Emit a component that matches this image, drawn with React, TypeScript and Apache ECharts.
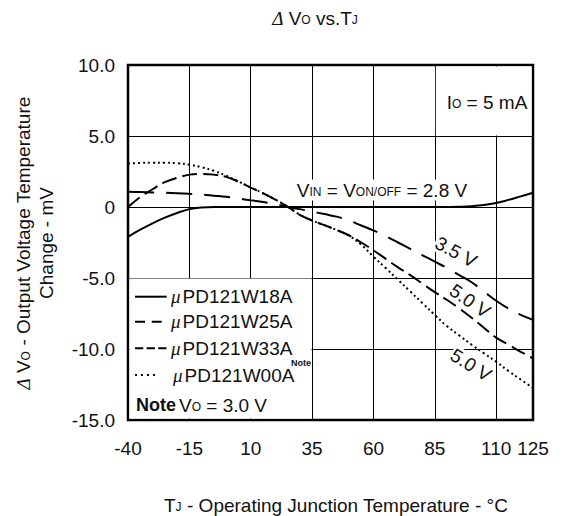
import React, { useEffect, useRef } from 'react';
import * as echarts from 'echarts';

// ---------- data ----------
const temps = [-40, -35, -30, -25, -20, -15, -10, -5, 0, 5, 10, 15, 20, 25, 30, 35, 40, 45, 50, 55, 60, 65, 70, 75, 80, 85, 90, 95, 100, 105, 110, 115, 120, 125];
const w18a = [-2.1, -1.6, -1.15, -0.75, -0.42, -0.15, -0.03, 0, 0, 0, 0, 0, 0, 0, 0, 0, 0, 0, 0, 0, 0, 0, 0, 0, 0, 0, 0, 0.02, 0.06, 0.14, 0.28, 0.5, 0.75, 1.0];
const w25a = [1.08, 1.05, 1.02, 1.0, 0.97, 0.93, 0.88, 0.8, 0.72, 0.6, 0.47, 0.35, 0.2, 0.0, -0.15, -0.33, -0.5, -0.68, -0.95, -1.3, -1.65, -2.05, -2.5, -2.95, -3.4, -3.85, -4.3, -4.8, -5.3, -5.95, -6.6, -7.15, -7.6, -7.95];
const w33a = [0, 0.7, 1.25, 1.75, 2.05, 2.28, 2.33, 2.28, 2.12, 1.78, 1.37, 0.96, 0.52, 0.02, -0.55, -0.95, -1.28, -1.62, -1.99, -2.5, -3.05, -3.65, -4.25, -4.8, -5.4, -6.0, -6.55, -7.15, -7.8, -8.5, -9.2, -9.7, -10.2, -10.66];
const w00a = [3.05, 3.1, 3.12, 3.12, 3.08, 2.98, 2.8, 2.55, 2.2, 1.8, 1.38, 0.97, 0.53, 0.03, -0.55, -0.95, -1.28, -1.62, -2.02, -2.65, -3.5, -4.3, -5.12, -5.95, -6.78, -7.6, -8.4, -9.05, -9.7, -10.3, -10.9, -11.55, -12.15, -12.75];
const seriesNames = ['PD121W18A', 'PD121W25A', 'PD121W33A', 'PD121W00A'];
const curveLabels = ['3.5 V', '5.0 V', '5.0 V'];

const xMin = -40, xMax = 125, xStep = 25;
const yMin = -15, yMax = 10, yStep = 5;

// ---------- layout / styles ----------
const W = 569, H = 516;
const G = { left: 128, top: 65, right: 36, bottom: 96 };
const FONT = '"Liberation Sans", Arial, Helvetica, sans-serif';
const SERIF = '"Liberation Serif", "Times New Roman", serif';
const INK = '#111';
const FS = 19;

const px = (t: number) => G.left + ((t - xMin) / (xMax - xMin)) * (W - G.left - G.right);
const py = (v: number) => G.top + ((yMax - v) / (yMax - yMin)) * (H - G.top - G.bottom);

const richSet = (lh?: number) => ({
  m: { fontFamily: FONT, fontSize: FS, fill: INK, verticalAlign: 'bottom', lineHeight: lh },
  s: { fontFamily: FONT, fontSize: 12, fill: INK, verticalAlign: 'bottom', padding: [0, 0, 1.5, 0] },
  d: { fontFamily: SERIF, fontSize: FS, fontStyle: 'italic', fill: INK, verticalAlign: 'bottom', lineHeight: lh },
  mu: { fontFamily: SERIF, fontSize: FS, fontStyle: 'italic', fill: INK, verticalAlign: 'bottom' },
  b: { fontFamily: FONT, fontSize: 18, fontWeight: 'bold', fill: INK, verticalAlign: 'bottom' },
});

const lineStyles: any[] = ['solid', [26, 12], [15, 6], [2, 3]];
const legendDash: any[] = [null, [10, 6.7], [8.3, 3.3], [2, 4]];
const legendEnd = [166.7, 162, 166.7, 157];
const legendRowY = [296.7, 321.7, 348.3, 375];
const legendTextX = [171, 171, 171, 173];

function buildOption(): any {
  const allData = [w18a, w25a, w33a, w00a];
  const series = allData.map((d, i) => ({
    type: 'line',
    name: seriesNames[i],
    data: temps.map((t, k) => [t, d[k]]),
    showSymbol: false,
    symbol: 'none',
    smooth: 0.4,
    silent: true,
    z: 2,
    lineStyle: { color: '#000', width: 2, type: lineStyles[i], cap: 'butt' },
  }));

  const graphic: any[] = [];
  // white box behind "Io = 5 mA"
  graphic.push({
    type: 'rect', z: 1, silent: true,
    shape: { x: px(85) + 1, y: py(10) + 1.5, width: px(125) - 1.5 - (px(85) + 1), height: py(5) - 0.6 - (py(10) + 1.5) },
    style: { fill: '#fff' },
  });
  // legend box
  graphic.push({
    type: 'rect', z: 1, silent: true,
    shape: { x: px(-40) + 1.5, y: py(-5) + 0.6, width: px(35) - 0.6 - (px(-40) + 1.5), height: py(-15) - 1.5 - (py(-5) + 0.6) },
    style: { fill: '#fff' },
  });
  // title
  graphic.push({
    type: 'text', x: 315, y: 18, z: 5,
    style: { text: '{d|Δ}{m| V}{s|O}{m| vs.T}{s|J}', rich: richSet(), align: 'center', verticalAlign: 'middle' },
  });
  // y axis title
  graphic.push({
    type: 'text', x: 33, y: 243, rotation: Math.PI / 2, z: 5,
    style: {
      text: '{d|Δ}{m| V}{s|O}{m| - Output Voltage Temperature}\n{m|Change - mV}',
      rich: richSet(23), align: 'center', verticalAlign: 'middle',
    },
  });
  // x axis title
  graphic.push({
    type: 'text', x: 336, y: 505, z: 5,
    style: { text: '{m|T}{s|J}{m| - Operating Junction Temperature - °C}', rich: richSet(), align: 'center', verticalAlign: 'middle' },
  });
  // Io label
  graphic.push({
    type: 'text', x: 487, y: 102, z: 5,
    style: { text: '{m|I}{s|O}{m| = 5 mA}', rich: richSet(), align: 'center', verticalAlign: 'middle' },
  });
  // VIN label
  graphic.push({
    type: 'text', x: 382, y: 190, z: 5,
    style: {
      text: '{m|V}{s|IN}{m| = V}{s|ON/OFF}{m| = 2.8 V}', rich: richSet(), align: 'center', verticalAlign: 'middle',
      backgroundColor: '#fff', padding: [1, 2],
    },
  });
  // rotated curve labels
  const lblPos = [
    { x: 456, y: 252, r: -0.49 },
    { x: 470, y: 301, r: -0.6 },
    { x: 471, y: 365, r: -0.56 },
  ];
  curveLabels.forEach((t, i) => {
    graphic.push({
      type: 'text', x: lblPos[i].x, y: lblPos[i].y, rotation: lblPos[i].r, z: 5,
      style: {
        text: t, fontFamily: FONT, fontSize: FS, fill: INK, align: 'center', verticalAlign: 'middle',
        backgroundColor: '#fff', padding: [0, 1],
      },
    });
  });
  // legend
  seriesNames.forEach((n, i) => {
    graphic.push({
      type: 'line', z: 5, silent: true,
      shape: { x1: 135, y1: legendRowY[i], x2: legendEnd[i], y2: legendRowY[i] },
      style: { stroke: '#000', lineWidth: 2, lineDash: legendDash[i] || undefined },
    });
    graphic.push({
      type: 'text', x: legendTextX[i], y: legendRowY[i], z: 5,
      style: { text: `{mu|μ}{m|${n}}`, rich: { ...richSet(), m: { ...richSet().m, padding: [0, 0, 0, 2] } }, align: 'left', verticalAlign: 'middle' },
    });
  });
  graphic.push({
    type: 'text', x: 291, y: 363, z: 5,
    style: { text: 'Note', fontFamily: FONT, fontSize: 9, fontWeight: 'bold', fill: INK, align: 'left', verticalAlign: 'middle' },
  });
  graphic.push({
    type: 'text', x: 136, y: 405, z: 5,
    style: { text: 'Note', fontFamily: FONT, fontSize: 18, fontWeight: 'bold', fill: INK, align: 'left', verticalAlign: 'middle' },
  });
  graphic.push({
    type: 'text', x: 179, y: 405, z: 5,
    style: { text: '{m|V}{s|O}{m| = 3.0 V}', rich: richSet(), align: 'left', verticalAlign: 'middle' },
  });

  return {
    animation: false,
    backgroundColor: '#fff',
    grid: {
      left: G.left, top: G.top, right: G.right, bottom: G.bottom,
      show: true, borderColor: '#000', borderWidth: 2.5, backgroundColor: 'transparent',
      containLabel: false, outerBoundsMode: 'none',
    },
    xAxis: {
      type: 'value', min: xMin, max: xMax, interval: xStep,
      axisLine: { show: false }, axisTick: { show: false },
      splitLine: { show: true, lineStyle: { color: '#000', width: 1 } },
      axisLabel: { fontFamily: FONT, fontSize: FS, color: INK, margin: 19, showMinLabel: true, showMaxLabel: true },
    },
    yAxis: {
      type: 'value', min: yMin, max: yMax, interval: yStep,
      axisLine: { show: false }, axisTick: { show: false },
      splitLine: { show: true, lineStyle: { color: '#000', width: 1 } },
      axisLabel: {
        fontFamily: FONT, fontSize: FS, color: INK, margin: 13,
        formatter: (v: number) => (v === 0 ? '0' : v.toFixed(1)),
      },
    },
    series,
    graphic,
  };
}

export default function App() {
  const ref = useRef<HTMLDivElement>(null);
  useEffect(() => {
    const chart = echarts.init(ref.current!, undefined, { renderer: 'svg' });
    chart.setOption(buildOption());
    return () => chart.dispose();
  }, []);
  return <div ref={ref} style={{ position: 'fixed', left: 0, top: 0, width: W, height: H }} />;
}
